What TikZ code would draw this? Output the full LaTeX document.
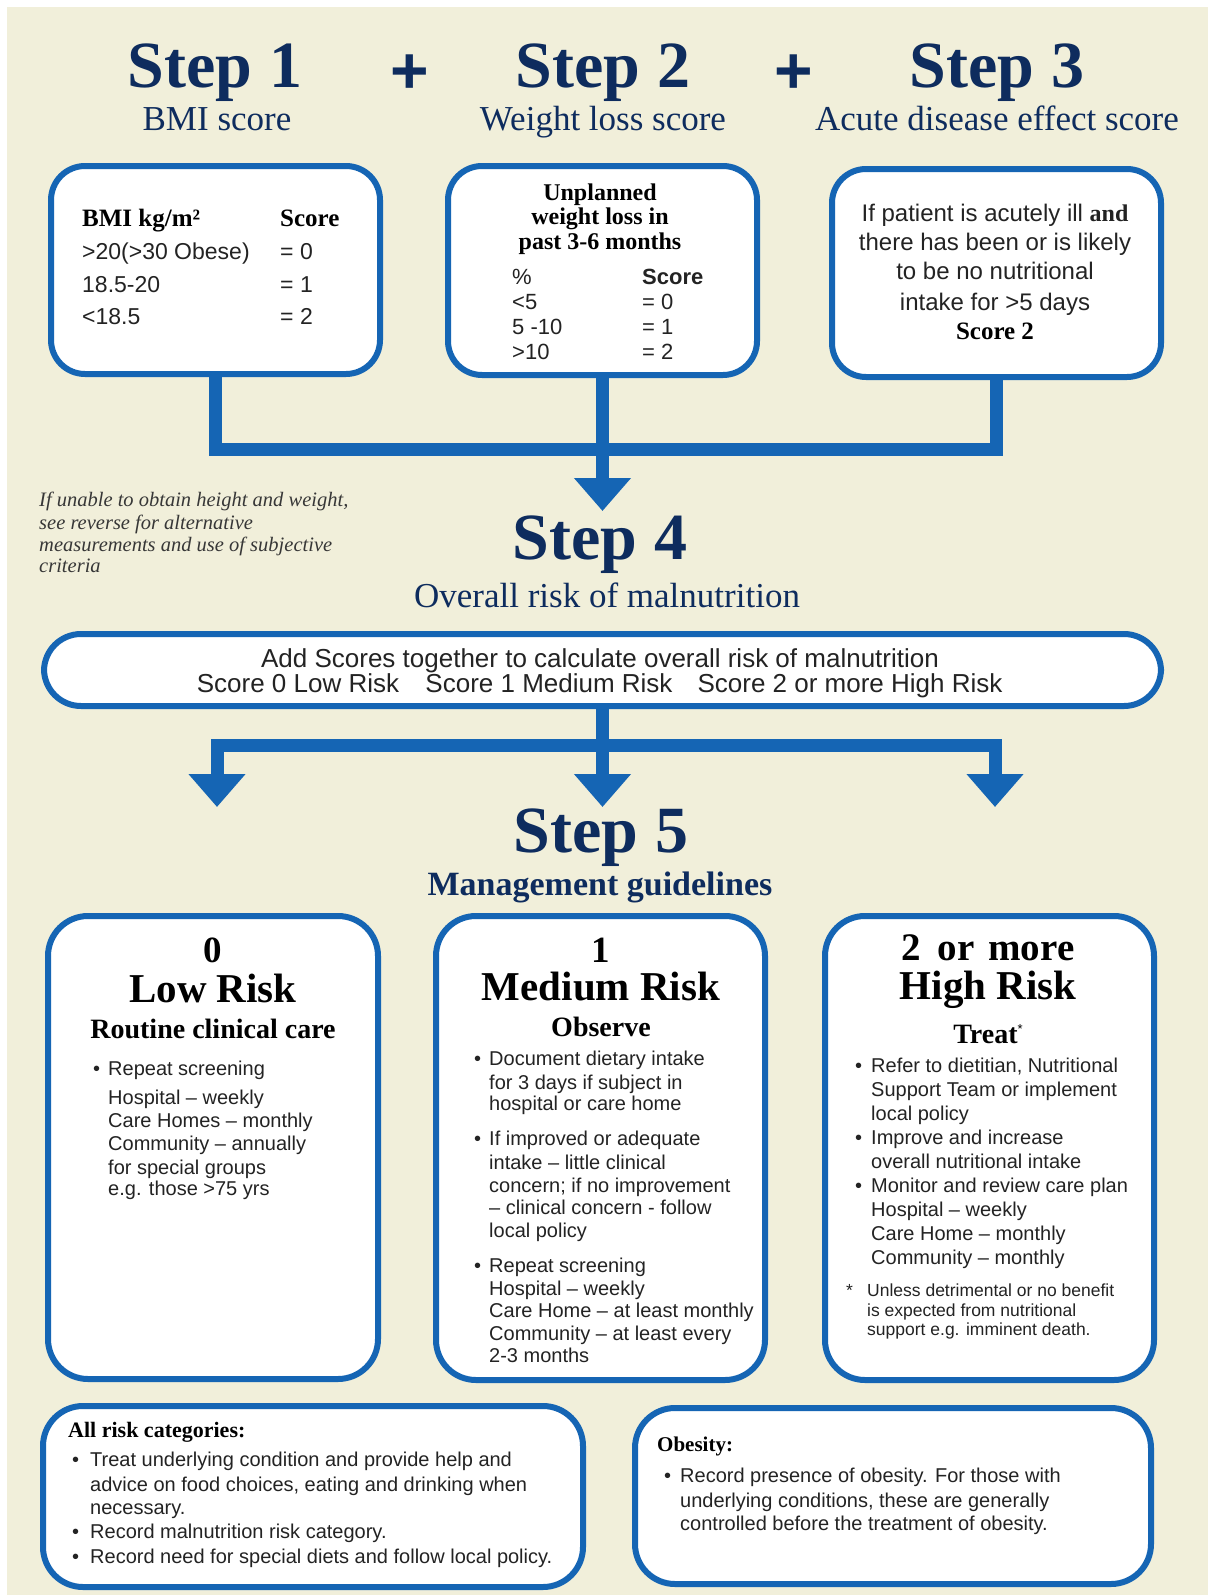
\documentclass[tikz,border=0pt]{standalone}
\usepackage{fontspec}
\setmainfont{Liberation Serif}
\setsansfont{Liberation Sans}
\usetikzlibrary{arrows.meta}
\definecolor{cream}{RGB}{241,239,218}
\definecolor{nhsblue}{RGB}{21,101,180}
\definecolor{navy}{RGB}{14,44,94}
\definecolor{txt}{RGB}{35,35,35}
\definecolor{notegray}{RGB}{55,55,55}
\tikzset{
  box/.style={draw=nhsblue, line width=6pt, fill=white, inner sep=0pt, rounded corners=#1},
  box/.default=34pt,
  conn/.style={draw=nhsblue, line width=13pt, line join=miter, line cap=butt},
  arrowhd/.style={-{Triangle[length=33pt,width=55pt]}},
  bigstep/.style={font=\fontsize{66}{70}\selectfont\bfseries, text=navy, anchor=base, inner sep=0pt},
  subtitle/.style={font=\fontsize{35}{40}\selectfont, text=navy, anchor=base, inner sep=0pt},
  plussign/.style={font=\sffamily\bfseries\fontsize{66}{70}\selectfont, text=navy, inner sep=0pt},
  note/.style={font=\itshape\fontsize{20.5}{22}\selectfont, text=notegray, anchor=mid west, inner sep=0pt, yshift=-5pt},
  sans/.style={font=\sffamily\fontsize{20}{23}\selectfont, text=txt, anchor=mid west, inner sep=0pt, yshift=-5pt},
  hd/.style={font=\bfseries\fontsize{#1}{#1}\selectfont, text=black, anchor=base, inner sep=0pt},
}
\begin{document}
\begin{tikzpicture}[x=1pt,y=-1pt]
\useasboundingbox (0,0) rectangle (1208,1595);
\fill[white] (0,0) rectangle (1208,1595);
\fill[cream] (7,7) rectangle (1208,1595);

% ---------- titles ----------
\node[bigstep] (s1) at (215,88) {Step 1};
\node[bigstep] (s2) at (603,88) {Step 2};
\node[bigstep] (s3) at (997,88) {Step 3};
\node[plussign] (p1) at (410,74) {+};
\node[plussign] (p2) at (794,74) {+};
\node[subtitle] (s1t) at (217,130) {BMI score};
\node[subtitle] (s2t) at (603,130) {Weight loss score};
\node[subtitle] (s3t) at (997,130) {Acute disease effect score};

% ---------- step boxes ----------
\node[box, minimum width=329pt, minimum height=208pt] (b1) at (215.5,270) {};
\node[box, minimum width=309pt, minimum height=209pt] (b2) at (602.5,270.5) {};
\node[box, minimum width=329pt, minimum height=208pt] (b3) at (996.5,273) {};

% box 1
\node[hd=25, anchor=base west] (bmih) at (82,226) {BMI kg/m²};
\node[hd=25, anchor=base west] (bmis) at (280,226) {Score};
\node[sans, font=\sffamily\fontsize{23}{25}\selectfont] (r1a) at (82,252) {>20(>30 Obese)};
\node[sans, font=\sffamily\fontsize{23}{25}\selectfont] (r2a) at (82,285) {18.5-20};
\node[sans, font=\sffamily\fontsize{23}{25}\selectfont] (r3a) at (82,317) {<18.5};
\node[sans, font=\sffamily\fontsize{23}{25}\selectfont] (r1b) at (280,252) {= 0};
\node[sans, font=\sffamily\fontsize{23}{25}\selectfont] (r2b) at (280,285) {= 1};
\node[sans, font=\sffamily\fontsize{23}{25}\selectfont] (r3b) at (280,317) {= 2};

% box 2
\node[hd=24] (u1) at (600,200) {Unplanned};
\node[hd=24] (u2) at (600,224) {weight loss in};
\node[hd=24] (u3) at (600,249) {past 3-6 months};
\node[sans, font=\sffamily\fontsize{22}{24}\selectfont] (pc) at (512,277) {\%};
\node[sans, font=\sffamily\bfseries\fontsize{22}{24}\selectfont] (sc2) at (642,277) {Score};
\node[sans, font=\sffamily\fontsize{22}{24}\selectfont] (w1a) at (512,302) {<5};
\node[sans, font=\sffamily\fontsize{22}{24}\selectfont] (w2a) at (512,327) {5 -10};
\node[sans, font=\sffamily\fontsize{22}{24}\selectfont] (w3a) at (512,352) {>10};
\node[sans, font=\sffamily\fontsize{22}{24}\selectfont] (w1b) at (642,302) {= 0};
\node[sans, font=\sffamily\fontsize{22}{24}\selectfont] (w2b) at (642,327) {= 1};
\node[sans, font=\sffamily\fontsize{22}{24}\selectfont] (w3b) at (642,352) {= 2};

% box 3
\node[sans, anchor=mid, font=\sffamily\fontsize{24}{26}\selectfont] (a1l) at (995,214) {If patient is acutely ill {\rmfamily\bfseries and}};
\node[sans, anchor=mid, font=\sffamily\fontsize{24}{26}\selectfont] (a2l) at (995,243) {there has been or is likely};
\node[sans, anchor=mid, font=\sffamily\fontsize{24}{26}\selectfont] (a3l) at (995,272) {to be no nutritional};
\node[sans, anchor=mid, font=\sffamily\fontsize{24}{26}\selectfont] (a4l) at (995,303) {intake for >5 days};
\node[hd=25] (a5l) at (995,339) {Score 2};

% ---------- connectors to step 4 ----------
\coordinate (j1) at (602.5,449);
\coordinate (t4) at (602.5,511);
\draw[conn] (b1.south) |- (j1) -| (b3.south);
\draw[conn, arrowhd] (b2.south) -- (t4);

% note
\foreach \yy/\mytext [count=\k] in {499/{If unable to obtain height and weight,},522/{see reverse for alternative},544/{measurements and use of subjective},565/{criteria}}
  \node[note] (note\k) at (39,\yy) {\mytext};

% step 4
\node[bigstep] (s4) at (600,559) {Step 4};
\node[subtitle] (s4t) at (607,607) {Overall risk of malnutrition};

\node[box=37pt, minimum width=1117pt, minimum height=72pt] (w) at (602.5,670) {};
\node[sans, anchor=mid, font=\sffamily\fontsize{26}{28}\selectfont] (wl1) at (600,660) {Add Scores together to calculate overall risk of malnutrition};
\node[sans, anchor=mid, font=\sffamily\fontsize{26}{28}\selectfont] (wl2) at (298,685) {Score 0 Low Risk};
\node[sans, anchor=mid, font=\sffamily\fontsize{26}{28}\selectfont] (wl3) at (549,685) {Score 1 Medium Risk};
\node[sans, anchor=mid, font=\sffamily\fontsize{26}{28}\selectfont] (wl4) at (850,685) {Score 2 or more High Risk};

% ---------- connectors to step 5 ----------
\coordinate (j2) at (602.5,745);
\coordinate (e1) at (217,807);
\coordinate (e2) at (602.5,807);
\coordinate (e3) at (995,807);
\draw[conn, arrowhd] (j2) -| (e1);
\draw[conn, arrowhd] (j2) -| (e3);
\draw[conn, arrowhd] (w.south) -- (e2);

% step 5
\node[bigstep] (s5) at (601,852) {Step 5};
\node[subtitle, font=\bfseries\fontsize{34}{40}\selectfont] (s5t) at (600,895) {Management guidelines};

% ---------- management boxes ----------
\node[box=40pt, minimum width=330pt, minimum height=463pt] (lo) at (213,1147.5) {};
\node[box=40pt, minimum width=329pt, minimum height=464pt] (me) at (600.5,1148) {};
\node[box=40pt, minimum width=329pt, minimum height=464pt] (hi) at (989.5,1148) {};

% low
\node[hd=37] (lo0) at (213,962) {0};
\node[hd=41] (lo1) at (213,1002) {Low Risk};
\node[hd=28] (lo2) at (213,1038) {Routine clinical care};
\node[sans] (lob1) at (93,1068) {•};
\foreach \yy/\mytext [count=\k] in {1068/{Repeat screening},1097/{Hospital – weekly},1120/{Care Homes – monthly},1143/{Community – annually},1167/{for special groups},1188/{e.g. those >75 yrs}}
  \node[sans] (lot\k) at (108,\yy) {\mytext};

% medium
\node[hd=37] (me0) at (601,962) {1};
\node[hd=41] (me1) at (601,1000) {Medium Risk};
\node[hd=28] (me2) at (601,1036) {Observe};
\node[sans] (meb1) at (474,1058) {•};
\node[sans] (meb2) at (474,1138) {•};
\node[sans] (meb3) at (474,1265) {•};
\foreach \yy/\mytext [count=\k] in {1058/{Document dietary intake},1082/{for 3 days if subject in},1103/{hospital or care home},1138/{If improved or adequate},1162/{intake – little clinical},1185/{concern; if no improvement},1207/{– clinical concern - follow},1230/{local policy},1265/{Repeat screening},1288/{Hospital – weekly},1310/{Care Home – at least monthly},1333/{Community – at least every},1355/{2-3 months}}
  \node[sans] (met\k) at (489,\yy) {\mytext};

% high
\node[hd=39] (hi0) at (988,960) {2\hspace{7pt} or\hspace{4pt} more};
\node[hd=41] (hi1) at (988,999) {High Risk};
\node[hd=28] (hi2) at (988,1043) {Treat\raisebox{10pt}{\sffamily\mdseries\fontsize{13}{13}\selectfont *}};
\node[sans] (hib1) at (855,1065) {•};
\node[sans] (hib2) at (855,1137) {•};
\node[sans] (hib3) at (855,1185) {•};
\foreach \yy/\mytext [count=\k] in {1065/{Refer to dietitian, Nutritional},1089/{Support Team or implement},1113/{local policy},1137/{Improve and increase},1161/{overall nutritional intake},1185/{Monitor and review care plan},1209/{Hospital – weekly},1233/{Care Home – monthly},1257/{Community – monthly}}
  \node[sans] (hit\k) at (871,\yy) {\mytext};
\node[sans, font=\sffamily\fontsize{17.5}{20}\selectfont] (hist) at (846,1289) {*};
\foreach \yy/\mytext [count=\k] in {1289/{Unless detrimental or no benefit},1309/{is expected from nutritional},1328/{support e.g. imminent death.}}
  \node[sans, font=\sffamily\fontsize{17.5}{20}\selectfont] (hif\k) at (867,\yy) {\mytext};

% ---------- bottom boxes ----------
\node[box=40pt, minimum width=540pt, minimum height=181pt] (all) at (313,1496.5) {};
\node[box=40pt, minimum width=516pt, minimum height=176pt] (ob) at (893,1496) {};

\node[hd=22, anchor=base west] (allh) at (68,1437) {All risk categories:};
\node[sans] (allb1) at (72,1459) {•};
\node[sans] (allb2) at (72,1531) {•};
\node[sans] (allb3) at (72,1556) {•};
\foreach \yy/\mytext [count=\k] in {1459/{Treat underlying condition and provide help and},1484/{advice on food choices, eating and drinking when},1507/{necessary.},1531/{Record malnutrition risk category.},1556/{Record need for special diets and follow local policy.}}
  \node[sans] (allt\k) at (90,\yy) {\mytext};

\node[hd=21, anchor=base west] (obh) at (657,1451) {Obesity:};
\node[sans] (obb1) at (664,1475) {•};
\foreach \yy/\mytext [count=\k] in {1475/{Record presence of obesity. For those with},1500/{underlying conditions, these are generally},1523/{controlled before the treatment of obesity.}}
  \node[sans] (obt\k) at (680,\yy) {\mytext};
\end{tikzpicture}
\end{document}
